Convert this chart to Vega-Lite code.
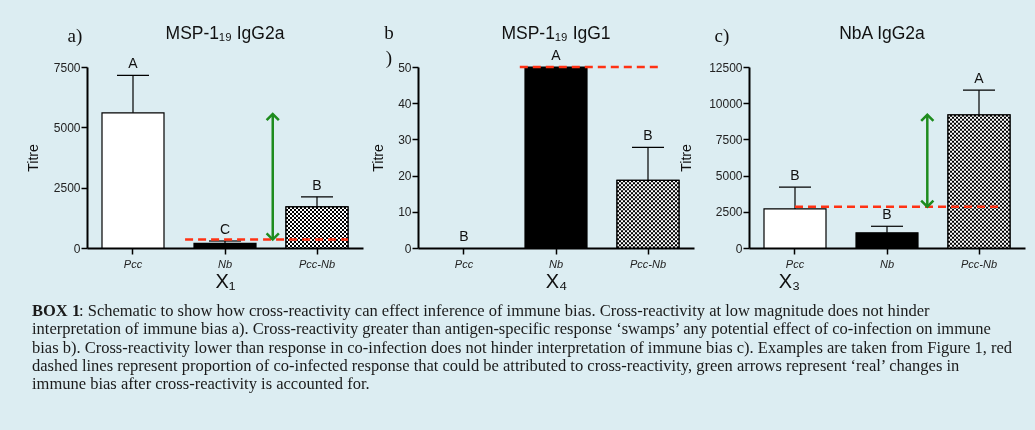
{
  "$schema": "https://vega.github.io/schema/vega-lite/v6.json",
  "background": "#dcedf2",
  "padding": {"left": 26, "top": 24, "right": 8, "bottom": 38},
  "datasets": {
    "a": [
      {"g": "Pcc", "v": 5600, "u": 7150, "L": "A"},
      {"g": "Nb", "v": 190, "u": 290, "L": "C"},
      {"g": "Pcc-Nb", "v": 1700, "u": 2120, "L": "B"}
    ],
    "b": [
      {"g": "Pcc", "v": 0, "u": 0, "L": "B"},
      {"g": "Nb", "v": 50, "u": 50, "L": "A"},
      {"g": "Pcc-Nb", "v": 18.7, "u": 27.8, "L": "B"}
    ],
    "c": [
      {"g": "Pcc", "v": 2700, "u": 4200, "L": "B"},
      {"g": "Nb", "v": 1050, "u": 1500, "L": "B"},
      {"g": "Pcc-Nb", "v": 9200, "u": 10900, "L": "A"}
    ]
  },
  "vconcat": [
    {
      "hconcat": [
        {
          "width": 276, "height": 181,
          "data": {"name": "a"},
          "layer": [
            {"mark": {"type": "bar", "stroke": "#000", "strokeWidth": 1.2},
             "encoding": {
               "x": {"field": "g", "type": "nominal", "sort": null, "scale": {"domain": ["Pcc", "Nb", "Pcc-Nb"], "paddingInner": 0.32609, "paddingOuter": 0.16304}, "axis": {"title": "X₁"}},
               "y": {"field": "v", "type": "quantitative", "stack": null, "scale": {"domain": [0, 7500], "nice": false}, "axis": {"title": "Titre", "values": [0, 2500, 5000, 7500], "tickCount": 20, "format": "d", "titlePadding": 13}},
               "fill": {"field": "g", "type": "nominal", "scale": {"domain": ["Pcc", "Nb", "Pcc-Nb"], "range": ["#ffffff", "#000000", "#ffffff"]}, "legend": null}}},
            {"transform": [{"filter": "datum.g == 'Pcc-Nb'"}],
             "mark": {"type": "bar", "fill": {"gradient": "linear", "x1": 0, "y1": 0, "x2": 1, "y2": 0, "stops": [{"offset":0,"color":"#000"},{"offset":0.0323,"color":"#000"},{"offset":0.0323,"color":"#fff"},{"offset":0.0645,"color":"#fff"},{"offset":0.0645,"color":"#000"},{"offset":0.0968,"color":"#000"},{"offset":0.0968,"color":"#fff"},{"offset":0.129,"color":"#fff"},{"offset":0.129,"color":"#000"},{"offset":0.1613,"color":"#000"},{"offset":0.1613,"color":"#fff"},{"offset":0.1935,"color":"#fff"},{"offset":0.1935,"color":"#000"},{"offset":0.2258,"color":"#000"},{"offset":0.2258,"color":"#fff"},{"offset":0.2581,"color":"#fff"},{"offset":0.2581,"color":"#000"},{"offset":0.2903,"color":"#000"},{"offset":0.2903,"color":"#fff"},{"offset":0.3226,"color":"#fff"},{"offset":0.3226,"color":"#000"},{"offset":0.3548,"color":"#000"},{"offset":0.3548,"color":"#fff"},{"offset":0.3871,"color":"#fff"},{"offset":0.3871,"color":"#000"},{"offset":0.4194,"color":"#000"},{"offset":0.4194,"color":"#fff"},{"offset":0.4516,"color":"#fff"},{"offset":0.4516,"color":"#000"},{"offset":0.4839,"color":"#000"},{"offset":0.4839,"color":"#fff"},{"offset":0.5161,"color":"#fff"},{"offset":0.5161,"color":"#000"},{"offset":0.5484,"color":"#000"},{"offset":0.5484,"color":"#fff"},{"offset":0.5806,"color":"#fff"},{"offset":0.5806,"color":"#000"},{"offset":0.6129,"color":"#000"},{"offset":0.6129,"color":"#fff"},{"offset":0.6452,"color":"#fff"},{"offset":0.6452,"color":"#000"},{"offset":0.6774,"color":"#000"},{"offset":0.6774,"color":"#fff"},{"offset":0.7097,"color":"#fff"},{"offset":0.7097,"color":"#000"},{"offset":0.7419,"color":"#000"},{"offset":0.7419,"color":"#fff"},{"offset":0.7742,"color":"#fff"},{"offset":0.7742,"color":"#000"},{"offset":0.8065,"color":"#000"},{"offset":0.8065,"color":"#fff"},{"offset":0.8387,"color":"#fff"},{"offset":0.8387,"color":"#000"},{"offset":0.871,"color":"#000"},{"offset":0.871,"color":"#fff"},{"offset":0.9032,"color":"#fff"},{"offset":0.9032,"color":"#000"},{"offset":0.9355,"color":"#000"},{"offset":0.9355,"color":"#fff"},{"offset":0.9677,"color":"#fff"},{"offset":0.9677,"color":"#000"},{"offset":1,"color":"#000"}]}},
             "encoding": {"x": {"field": "g", "type": "nominal"}, "y": {"field": "v", "type": "quantitative"}}},
            {"transform": [{"filter": "datum.g == 'Pcc-Nb'"}],
             "mark": {"type": "rule", "stroke": "#ffffff", "strokeWidth": 62, "strokeDash": [2, 2], "blend": "difference"},
             "encoding": {"x": {"field": "g", "type": "nominal"}, "y": {"field": "v", "type": "quantitative"}, "y2": {"datum": 0}}},
            {"transform": [{"filter": "datum.g == 'Pcc-Nb'"}],
             "mark": {"type": "bar", "fillOpacity": 0, "stroke": "#000", "strokeWidth": 1.2},
             "encoding": {"x": {"field": "g", "type": "nominal"}, "y": {"field": "v", "type": "quantitative"}}},
            {"transform": [{"filter": "datum.u > datum.v"}],
             "mark": {"type": "rule", "stroke": "#000", "strokeWidth": 1.2},
             "encoding": {"x": {"field": "g", "type": "nominal"}, "y": {"field": "v", "type": "quantitative"}, "y2": {"field": "u"}}},
            {"transform": [{"filter": "datum.u > datum.v"}],
             "mark": {"type": "tick", "color": "#000", "size": 32, "thickness": 1.2, "opacity": 1},
             "encoding": {"x": {"field": "g", "type": "nominal"}, "y": {"field": "u", "type": "quantitative"}}},
            {"mark": {"type": "text", "dy": -7, "baseline": "alphabetic", "fontSize": 14, "font": "Liberation Sans", "color": "#111"},
             "encoding": {"x": {"field": "g", "type": "nominal"}, "y": {"field": "u", "type": "quantitative"}, "text": {"field": "L"}}},
            {"data": {"values": [{"from": "Pcc", "to": "Pcc-Nb", "y": 350}]},
             "mark": {"type": "rule", "stroke": "#ff3214", "strokeWidth": 2.5, "strokeDash": [8, 5]},
             "encoding": {"x": {"field": "from", "type": "nominal", "bandPosition": 1.34}, "x2": {"field": "to", "bandPosition": 1}, "y": {"field": "y", "type": "quantitative"}}},
            {"data": {"values": [{"at": "Nb", "lo": 350, "hi": 5550}]},
             "mark": {"type": "rule", "stroke": "#1e8c1e", "strokeWidth": 2.5},
             "encoding": {"x": {"field": "at", "type": "nominal", "bandPosition": 1.27}, "y": {"field": "lo", "type": "quantitative"}, "y2": {"field": "hi"}}},
            {"data": {"values": [{"at": "Nb", "lo": 350, "hi": 5550}]},
             "mark": {"type": "point", "shape": "M-1,1L0,0L1,1", "filled": false, "stroke": "#1e8c1e", "strokeWidth": 2.5, "size": 150, "opacity": 1},
             "encoding": {"x": {"field": "at", "type": "nominal", "bandPosition": 1.27}, "y": {"field": "hi", "type": "quantitative"}}},
            {"data": {"values": [{"at": "Nb", "lo": 350, "hi": 5550}]},
             "mark": {"type": "point", "shape": "M-1,-1L0,0L1,-1", "filled": false, "stroke": "#1e8c1e", "strokeWidth": 2.5, "size": 150, "opacity": 1},
             "encoding": {"x": {"field": "at", "type": "nominal", "bandPosition": 1.27}, "y": {"field": "lo", "type": "quantitative"}}},
            {"data": {"values": [{"t": "MSP-1₁₉ IgG2a"}]},
             "mark": {"type": "text", "font": "Liberation Sans", "fontSize": 17.5, "align": "center", "baseline": "alphabetic", "dy": -28, "color": "#111"},
             "encoding": {"x": {"datum": "Nb", "type": "nominal"}, "y": {"datum": 7500, "type": "quantitative"}, "text": {"field": "t"}}},
            {"data": {"values": [{"t": "a)"}]},
             "mark": {"type": "text", "font": "Liberation Serif", "fontSize": 19, "align": "center", "baseline": "top", "dx": -58, "dy": -40, "color": "#111"},
             "encoding": {"x": {"datum": "Pcc", "type": "nominal"}, "y": {"datum": 7500, "type": "quantitative"}, "text": {"field": "t"}}}
          ]
        },
        {
          "width": 276, "height": 181,
          "data": {"name": "b"},
          "layer": [
            {"transform": [{"filter": "datum.v > 0"}],
             "mark": {"type": "bar", "stroke": "#000", "strokeWidth": 1.2},
             "encoding": {
               "x": {"field": "g", "type": "nominal", "sort": null, "scale": {"domain": ["Pcc", "Nb", "Pcc-Nb"], "paddingInner": 0.32609, "paddingOuter": 0.16304}, "axis": {"title": "X₄"}},
               "y": {"field": "v", "type": "quantitative", "stack": null, "scale": {"domain": [0, 50], "nice": false}, "axis": {"title": "Titre", "values": [0, 10, 20, 30, 40, 50], "tickCount": 20, "format": "d", "titlePadding": 12}},
               "fill": {"field": "g", "type": "nominal", "scale": {"domain": ["Pcc", "Nb", "Pcc-Nb"], "range": ["#ffffff", "#000000", "#ffffff"]}, "legend": null}}},
            {"transform": [{"filter": "datum.g == 'Pcc-Nb'"}],
             "mark": {"type": "bar", "fill": {"gradient": "linear", "x1": 0, "y1": 0, "x2": 1, "y2": 0, "stops": [{"offset":0,"color":"#000"},{"offset":0.0323,"color":"#000"},{"offset":0.0323,"color":"#fff"},{"offset":0.0645,"color":"#fff"},{"offset":0.0645,"color":"#000"},{"offset":0.0968,"color":"#000"},{"offset":0.0968,"color":"#fff"},{"offset":0.129,"color":"#fff"},{"offset":0.129,"color":"#000"},{"offset":0.1613,"color":"#000"},{"offset":0.1613,"color":"#fff"},{"offset":0.1935,"color":"#fff"},{"offset":0.1935,"color":"#000"},{"offset":0.2258,"color":"#000"},{"offset":0.2258,"color":"#fff"},{"offset":0.2581,"color":"#fff"},{"offset":0.2581,"color":"#000"},{"offset":0.2903,"color":"#000"},{"offset":0.2903,"color":"#fff"},{"offset":0.3226,"color":"#fff"},{"offset":0.3226,"color":"#000"},{"offset":0.3548,"color":"#000"},{"offset":0.3548,"color":"#fff"},{"offset":0.3871,"color":"#fff"},{"offset":0.3871,"color":"#000"},{"offset":0.4194,"color":"#000"},{"offset":0.4194,"color":"#fff"},{"offset":0.4516,"color":"#fff"},{"offset":0.4516,"color":"#000"},{"offset":0.4839,"color":"#000"},{"offset":0.4839,"color":"#fff"},{"offset":0.5161,"color":"#fff"},{"offset":0.5161,"color":"#000"},{"offset":0.5484,"color":"#000"},{"offset":0.5484,"color":"#fff"},{"offset":0.5806,"color":"#fff"},{"offset":0.5806,"color":"#000"},{"offset":0.6129,"color":"#000"},{"offset":0.6129,"color":"#fff"},{"offset":0.6452,"color":"#fff"},{"offset":0.6452,"color":"#000"},{"offset":0.6774,"color":"#000"},{"offset":0.6774,"color":"#fff"},{"offset":0.7097,"color":"#fff"},{"offset":0.7097,"color":"#000"},{"offset":0.7419,"color":"#000"},{"offset":0.7419,"color":"#fff"},{"offset":0.7742,"color":"#fff"},{"offset":0.7742,"color":"#000"},{"offset":0.8065,"color":"#000"},{"offset":0.8065,"color":"#fff"},{"offset":0.8387,"color":"#fff"},{"offset":0.8387,"color":"#000"},{"offset":0.871,"color":"#000"},{"offset":0.871,"color":"#fff"},{"offset":0.9032,"color":"#fff"},{"offset":0.9032,"color":"#000"},{"offset":0.9355,"color":"#000"},{"offset":0.9355,"color":"#fff"},{"offset":0.9677,"color":"#fff"},{"offset":0.9677,"color":"#000"},{"offset":1,"color":"#000"}]}},
             "encoding": {"x": {"field": "g", "type": "nominal"}, "y": {"field": "v", "type": "quantitative"}}},
            {"transform": [{"filter": "datum.g == 'Pcc-Nb'"}],
             "mark": {"type": "rule", "stroke": "#ffffff", "strokeWidth": 62, "strokeDash": [2, 2], "blend": "difference"},
             "encoding": {"x": {"field": "g", "type": "nominal"}, "y": {"field": "v", "type": "quantitative"}, "y2": {"datum": 0}}},
            {"transform": [{"filter": "datum.g == 'Pcc-Nb'"}],
             "mark": {"type": "bar", "fillOpacity": 0, "stroke": "#000", "strokeWidth": 1.2},
             "encoding": {"x": {"field": "g", "type": "nominal"}, "y": {"field": "v", "type": "quantitative"}}},
            {"transform": [{"filter": "datum.u > datum.v"}],
             "mark": {"type": "rule", "stroke": "#000", "strokeWidth": 1.2},
             "encoding": {"x": {"field": "g", "type": "nominal"}, "y": {"field": "v", "type": "quantitative"}, "y2": {"field": "u"}}},
            {"transform": [{"filter": "datum.u > datum.v"}],
             "mark": {"type": "tick", "color": "#000", "size": 32, "thickness": 1.2, "opacity": 1},
             "encoding": {"x": {"field": "g", "type": "nominal"}, "y": {"field": "u", "type": "quantitative"}}},
            {"mark": {"type": "text", "dy": -7, "baseline": "alphabetic", "fontSize": 14, "font": "Liberation Sans", "color": "#111"},
             "encoding": {"x": {"field": "g", "type": "nominal"}, "y": {"field": "u", "type": "quantitative"}, "text": {"field": "L"}}},
            {"data": {"values": [{"from": "Pcc", "to": "Pcc-Nb", "y": 50}]},
             "mark": {"type": "rule", "stroke": "#ff3214", "strokeWidth": 2.5, "strokeDash": [8, 5]},
             "encoding": {"x": {"field": "from", "type": "nominal", "bandPosition": 1.4}, "x2": {"field": "to", "bandPosition": 0.73}, "y": {"field": "y", "type": "quantitative"}}},
            {"data": {"values": [{"t": "MSP-1₁₉ IgG1"}]},
             "mark": {"type": "text", "font": "Liberation Sans", "fontSize": 17.5, "align": "center", "baseline": "alphabetic", "dy": -28, "color": "#111"},
             "encoding": {"x": {"datum": "Nb", "type": "nominal"}, "y": {"datum": 50, "type": "quantitative"}, "text": {"field": "t"}}},
            {"data": {"values": [{"t": ["b", ")"]}]},
             "mark": {"type": "text", "font": "Liberation Serif", "fontSize": 19, "lineHeight": 25, "align": "center", "baseline": "top", "dx": -75, "dy": -43, "color": "#111"},
             "encoding": {"x": {"datum": "Pcc", "type": "nominal"}, "y": {"datum": 50, "type": "quantitative"}, "text": {"field": "t"}}}
          ]
        },
        {
          "width": 276, "height": 181,
          "data": {"name": "c"},
          "layer": [
            {"mark": {"type": "bar", "stroke": "#000", "strokeWidth": 1.2},
             "encoding": {
               "x": {"field": "g", "type": "nominal", "sort": null, "scale": {"domain": ["Pcc", "Nb", "Pcc-Nb"], "paddingInner": 0.32609, "paddingOuter": 0.16304}, "axis": {"title": "X₃", "titleX": 40}},
               "y": {"field": "v", "type": "quantitative", "stack": null, "scale": {"domain": [0, 12500], "nice": false}, "axis": {"title": "Titre", "values": [0, 2500, 5000, 7500, 10000, 12500], "tickCount": 20, "format": "d", "titlePadding": 15}},
               "fill": {"field": "g", "type": "nominal", "scale": {"domain": ["Pcc", "Nb", "Pcc-Nb"], "range": ["#ffffff", "#000000", "#ffffff"]}, "legend": null}}},
            {"transform": [{"filter": "datum.g == 'Pcc-Nb'"}],
             "mark": {"type": "bar", "fill": {"gradient": "linear", "x1": 0, "y1": 0, "x2": 1, "y2": 0, "stops": [{"offset":0,"color":"#000"},{"offset":0.0323,"color":"#000"},{"offset":0.0323,"color":"#fff"},{"offset":0.0645,"color":"#fff"},{"offset":0.0645,"color":"#000"},{"offset":0.0968,"color":"#000"},{"offset":0.0968,"color":"#fff"},{"offset":0.129,"color":"#fff"},{"offset":0.129,"color":"#000"},{"offset":0.1613,"color":"#000"},{"offset":0.1613,"color":"#fff"},{"offset":0.1935,"color":"#fff"},{"offset":0.1935,"color":"#000"},{"offset":0.2258,"color":"#000"},{"offset":0.2258,"color":"#fff"},{"offset":0.2581,"color":"#fff"},{"offset":0.2581,"color":"#000"},{"offset":0.2903,"color":"#000"},{"offset":0.2903,"color":"#fff"},{"offset":0.3226,"color":"#fff"},{"offset":0.3226,"color":"#000"},{"offset":0.3548,"color":"#000"},{"offset":0.3548,"color":"#fff"},{"offset":0.3871,"color":"#fff"},{"offset":0.3871,"color":"#000"},{"offset":0.4194,"color":"#000"},{"offset":0.4194,"color":"#fff"},{"offset":0.4516,"color":"#fff"},{"offset":0.4516,"color":"#000"},{"offset":0.4839,"color":"#000"},{"offset":0.4839,"color":"#fff"},{"offset":0.5161,"color":"#fff"},{"offset":0.5161,"color":"#000"},{"offset":0.5484,"color":"#000"},{"offset":0.5484,"color":"#fff"},{"offset":0.5806,"color":"#fff"},{"offset":0.5806,"color":"#000"},{"offset":0.6129,"color":"#000"},{"offset":0.6129,"color":"#fff"},{"offset":0.6452,"color":"#fff"},{"offset":0.6452,"color":"#000"},{"offset":0.6774,"color":"#000"},{"offset":0.6774,"color":"#fff"},{"offset":0.7097,"color":"#fff"},{"offset":0.7097,"color":"#000"},{"offset":0.7419,"color":"#000"},{"offset":0.7419,"color":"#fff"},{"offset":0.7742,"color":"#fff"},{"offset":0.7742,"color":"#000"},{"offset":0.8065,"color":"#000"},{"offset":0.8065,"color":"#fff"},{"offset":0.8387,"color":"#fff"},{"offset":0.8387,"color":"#000"},{"offset":0.871,"color":"#000"},{"offset":0.871,"color":"#fff"},{"offset":0.9032,"color":"#fff"},{"offset":0.9032,"color":"#000"},{"offset":0.9355,"color":"#000"},{"offset":0.9355,"color":"#fff"},{"offset":0.9677,"color":"#fff"},{"offset":0.9677,"color":"#000"},{"offset":1,"color":"#000"}]}},
             "encoding": {"x": {"field": "g", "type": "nominal"}, "y": {"field": "v", "type": "quantitative"}}},
            {"transform": [{"filter": "datum.g == 'Pcc-Nb'"}],
             "mark": {"type": "rule", "stroke": "#ffffff", "strokeWidth": 62, "strokeDash": [2, 2], "blend": "difference"},
             "encoding": {"x": {"field": "g", "type": "nominal"}, "y": {"field": "v", "type": "quantitative"}, "y2": {"datum": 0}}},
            {"transform": [{"filter": "datum.g == 'Pcc-Nb'"}],
             "mark": {"type": "bar", "fillOpacity": 0, "stroke": "#000", "strokeWidth": 1.2},
             "encoding": {"x": {"field": "g", "type": "nominal"}, "y": {"field": "v", "type": "quantitative"}}},
            {"transform": [{"filter": "datum.u > datum.v"}],
             "mark": {"type": "rule", "stroke": "#000", "strokeWidth": 1.2},
             "encoding": {"x": {"field": "g", "type": "nominal"}, "y": {"field": "v", "type": "quantitative"}, "y2": {"field": "u"}}},
            {"transform": [{"filter": "datum.u > datum.v"}],
             "mark": {"type": "tick", "color": "#000", "size": 32, "thickness": 1.2, "opacity": 1},
             "encoding": {"x": {"field": "g", "type": "nominal"}, "y": {"field": "u", "type": "quantitative"}}},
            {"mark": {"type": "text", "dy": -7, "baseline": "alphabetic", "fontSize": 14, "font": "Liberation Sans", "color": "#111"},
             "encoding": {"x": {"field": "g", "type": "nominal"}, "y": {"field": "u", "type": "quantitative"}, "text": {"field": "L"}}},
            {"data": {"values": [{"from": "Pcc", "to": "Pcc-Nb", "y": 2850}]},
             "mark": {"type": "rule", "stroke": "#ff3214", "strokeWidth": 2.5, "strokeDash": [8, 5]},
             "encoding": {"x": {"field": "from", "type": "nominal", "bandPosition": 0.5}, "x2": {"field": "to", "bandPosition": 0.87}, "y": {"field": "y", "type": "quantitative"}}},
            {"data": {"values": [{"at": "Nb", "lo": 2850, "hi": 9200}]},
             "mark": {"type": "rule", "stroke": "#1e8c1e", "strokeWidth": 2.5},
             "encoding": {"x": {"field": "at", "type": "nominal", "bandPosition": 1.15}, "y": {"field": "lo", "type": "quantitative"}, "y2": {"field": "hi"}}},
            {"data": {"values": [{"at": "Nb", "lo": 2850, "hi": 9200}]},
             "mark": {"type": "point", "shape": "M-1,1L0,0L1,1", "filled": false, "stroke": "#1e8c1e", "strokeWidth": 2.5, "size": 150, "opacity": 1},
             "encoding": {"x": {"field": "at", "type": "nominal", "bandPosition": 1.15}, "y": {"field": "hi", "type": "quantitative"}}},
            {"data": {"values": [{"at": "Nb", "lo": 2850, "hi": 9200}]},
             "mark": {"type": "point", "shape": "M-1,-1L0,0L1,-1", "filled": false, "stroke": "#1e8c1e", "strokeWidth": 2.5, "size": 150, "opacity": 1},
             "encoding": {"x": {"field": "at", "type": "nominal", "bandPosition": 1.15}, "y": {"field": "lo", "type": "quantitative"}}},
            {"data": {"values": [{"t": "NbA  IgG2a"}]},
             "mark": {"type": "text", "font": "Liberation Sans", "fontSize": 17.5, "align": "center", "baseline": "alphabetic", "dx": -5, "dy": -28, "color": "#111"},
             "encoding": {"x": {"datum": "Nb", "type": "nominal"}, "y": {"datum": 12500, "type": "quantitative"}, "text": {"field": "t"}}},
            {"data": {"values": [{"t": "c)"}]},
             "mark": {"type": "text", "font": "Liberation Serif", "fontSize": 19, "align": "center", "baseline": "top", "dx": -73, "dy": -40, "color": "#111"},
             "encoding": {"x": {"datum": "Pcc", "type": "nominal"}, "y": {"datum": 12500, "type": "quantitative"}, "text": {"field": "t"}}}
          ]
        }
      ],
      "spacing": 55,
      "bounds": "flush"
    },
    {
      "width": 980, "height": 73,
      "layer": [
        {"data": {"values": [{"line": 1, "t": "BOX 1"}]},
         "mark": {"type": "text", "align": "left", "baseline": "middle", "font": "Liberation Serif", "fontSize": 16.5, "fontWeight": "bold", "dx": -55, "color": "#1a1a1a"},
         "encoding": {"x": {"datum": 0, "type": "quantitative", "scale": {"domain": [0, 1]}, "axis": null}, "y": {"field": "line", "type": "ordinal", "scale": {"type": "point", "domain": [1, 2, 3, 4, 5], "padding": 0}, "axis": null}, "text": {"field": "t"}}},
        {"data": {"values": [{"line": 1, "t": ": Schematic to show how cross-reactivity can effect inference of immune bias. Cross-reactivity at low magnitude does not hinder"}]},
         "mark": {"type": "text", "align": "left", "baseline": "middle", "font": "Liberation Serif", "fontSize": 16.5, "dx": -8, "color": "#1a1a1a"},
         "encoding": {"x": {"datum": 0, "type": "quantitative"}, "y": {"field": "line", "type": "ordinal"}, "text": {"field": "t"}}},
        {"data": {"values": [
           {"line": 2, "t": "interpretation of immune bias a). Cross-reactivity greater than antigen-specific response ‘swamps’ any potential effect of co-infection on immune"},
           {"line": 3, "t": "bias b). Cross-reactivity lower than response in co-infection does not hinder interpretation of immune bias c). Examples are taken from Figure 1, red"},
           {"line": 4, "t": "dashed lines represent proportion of co-infected response that could be attributed to cross-reactivity, green arrows represent ‘real’ changes in"},
           {"line": 5, "t": "immune bias after cross-reactivity is accounted for."}
         ]},
         "mark": {"type": "text", "align": "left", "baseline": "middle", "font": "Liberation Serif", "fontSize": 16.5, "dx": -55, "color": "#1a1a1a"},
         "encoding": {"x": {"datum": 0, "type": "quantitative"}, "y": {"field": "line", "type": "ordinal"}, "text": {"field": "t"}}}
      ]
    }
  ],
  "spacing": 12,
  "config": {
    "font": "Liberation Sans",
    "view": {"stroke": null},
    "axis": {"domainColor": "#000", "domainWidth": 2, "tickColor": "#000", "tickWidth": 1.5, "tickSize": 6, "labelFont": "Liberation Sans", "labelFontSize": 12, "labelColor": "#222", "titleFont": "Liberation Sans", "titleFontWeight": "normal", "titleColor": "#111", "grid": false, "labelOverlap": false},
    "axisX": {"labelFontStyle": "italic", "labelFontSize": 11, "labelPadding": 4, "labelAngle": 0, "titleFontSize": 20, "titlePadding": 2},
    "axisY": {"labelPadding": 1, "titleFontSize": 14}
  }
}
